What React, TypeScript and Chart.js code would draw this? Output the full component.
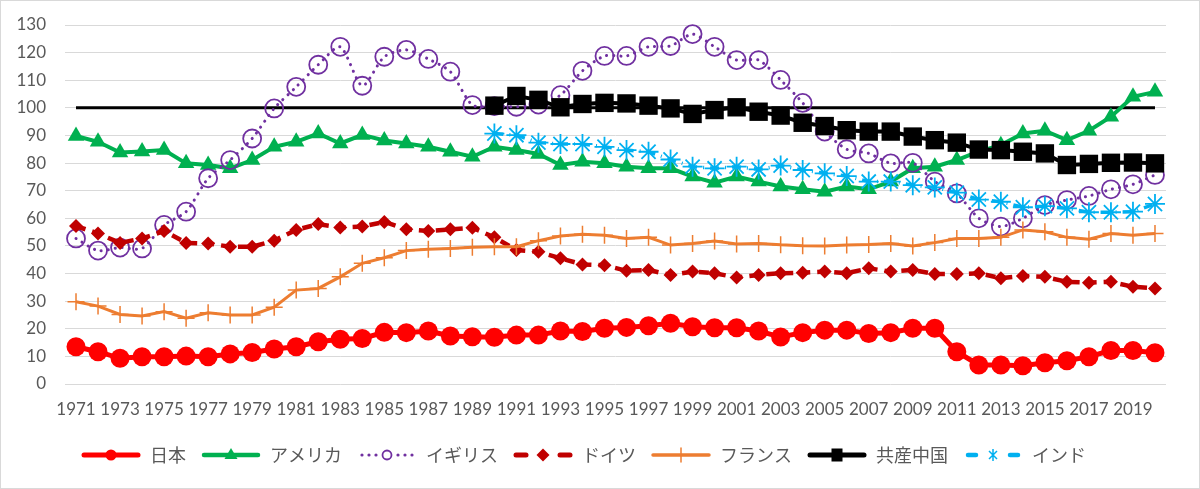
import React, { useEffect, useRef } from "react";
import { Chart, registerables } from "chart.js";

Chart.register(...registerables);

// 1971 - 2020
const years = [
  "1971", "1972", "1973", "1974", "1975", "1976", "1977", "1978", "1979", "1980",
  "1981", "1982", "1983", "1984", "1985", "1986", "1987", "1988", "1989", "1990",
  "1991", "1992", "1993", "1994", "1995", "1996", "1997", "1998", "1999", "2000",
  "2001", "2002", "2003", "2004", "2005", "2006", "2007", "2008", "2009", "2010",
  "2011", "2012", "2013", "2014", "2015", "2016", "2017", "2018", "2019", "2020",
];

const japan = [
  13.5, 11.7, 9.3, 9.9, 9.9, 10.1, 9.9, 10.9, 11.4, 12.7,
  13.5, 15.3, 16.2, 16.5, 18.7, 18.6, 19.2, 17.4, 17.1, 16.9,
  17.7, 17.7, 19.2, 19.0, 20.2, 20.5, 21.1, 22.0, 20.7, 20.4,
  20.4, 19.2, 17.0, 18.6, 19.5, 19.5, 18.3, 18.6, 20.2, 20.2,
  11.7, 6.9, 6.9, 6.6, 7.7, 8.4, 9.9, 12.1, 12.1, 11.3,
];

const usa = [
  89.8, 87.7, 83.8, 84.2, 84.7, 79.9, 79.3, 78.1, 81.1, 85.9,
  87.7, 90.7, 87.1, 90.2, 88.2, 87.1, 85.9, 84.1, 82.3, 85.9,
  84.7, 83.3, 79.3, 80.5, 79.9, 78.7, 78.1, 78.1, 75.1, 72.9,
  75.1, 73.3, 71.5, 70.5, 69.6, 71.5, 70.5, 73.3, 78.1, 78.7,
  81.1, 84.2, 86.5, 90.7, 91.7, 88.3, 91.7, 96.8, 104.0, 105.8,
];

const uk = [
  52.7, 48.3, 49.4, 49.1, 57.6, 62.4, 74.5, 81.1, 88.9, 99.8,
  107.6, 115.6, 122.1, 108.0, 118.5, 121.0, 117.7, 113.1, 101.0, 100.6,
  100.4, 101.2, 104.6, 113.4, 118.8, 118.8, 122.1, 122.4, 126.7, 122.1,
  117.3, 117.3, 110.1, 101.8, 91.4, 85.0, 83.5, 79.9, 80.1, 73.3,
  69.0, 60.0, 57.0, 60.0, 64.8, 66.6, 68.1, 70.5, 72.3, 75.7,
];

const germany = [
  57.2, 54.5, 51.1, 52.7, 55.4, 51.1, 50.9, 49.7, 49.7, 51.9,
  55.8, 57.9, 56.7, 57.0, 58.7, 56.0, 55.4, 56.0, 56.6, 53.1,
  48.5, 47.9, 45.5, 43.3, 43.0, 41.0, 41.3, 39.5, 40.7, 40.1,
  38.6, 39.5, 40.1, 40.3, 40.7, 40.1, 41.9, 40.7, 41.3, 39.8,
  39.8, 40.1, 38.3, 39.1, 38.8, 37.0, 36.7, 37.0, 35.2, 34.6,
];

const france = [
  29.8, 28.2, 25.2, 24.6, 26.2, 23.8, 25.8, 25.0, 25.0, 27.8,
  34.0, 34.6, 38.8, 43.7, 45.7, 48.3, 48.8, 49.1, 49.5, 49.7,
  49.7, 51.9, 53.6, 54.2, 53.9, 52.7, 53.1, 50.3, 50.9, 51.8,
  50.7, 50.9, 50.4, 50.1, 50.0, 50.3, 50.5, 50.9, 50.0, 51.2,
  52.7, 52.7, 53.1, 55.8, 55.1, 53.1, 52.4, 54.5, 53.9, 54.5,
];

const china = [
  null, null, null, null, null, null, null, null, null, null,
  null, null, null, null, null, null, null, null, null, 100.8,
  104.3, 102.9, 100.2, 101.4, 101.8, 101.6, 100.8, 99.8, 97.8, 99.2,
  100.2, 98.6, 97.2, 94.6, 93.4, 91.9, 91.4, 91.4, 89.6, 88.3,
  87.4, 84.9, 84.7, 84.1, 83.5, 79.3, 79.7, 80.1, 80.2, 79.9,
];

const india = [
  null, null, null, null, null, null, null, null, null, null,
  null, null, null, null, null, null, null, null, null, 90.7,
  90.1, 87.4, 86.9, 86.9, 85.9, 84.7, 84.1, 81.3, 78.7, 78.1,
  78.7, 77.7, 79.1, 77.5, 76.3, 75.3, 73.3, 73.3, 72.0, 71.2,
  69.3, 66.8, 66.0, 64.0, 64.4, 63.6, 62.2, 62.2, 62.4, 65.2,
];

// reference line at 100
const baselineEnds = ["1971", "2020"];
const baselineValue = 100;

const yMin = 0;
const yMax = 130;
const yStep = 10;

const TICK_COLOR = "#595959";
const tickFont = { family: "Lato, 'Noto Sans', sans-serif", size: 17 };

// legend sample: line + marker drawn on a small canvas
function makeIcon(draw: (g: CanvasRenderingContext2D) => void): HTMLCanvasElement {
  const c = document.createElement("canvas");
  c.width = 60;
  c.height = 20;
  const g = c.getContext("2d");
  if (g) {
    g.lineCap = "round";
    draw(g);
  }
  return c;
}

function seg(g: CanvasRenderingContext2D, x1: number, x2: number, color: string, w: number) {
  g.strokeStyle = color;
  g.lineWidth = w;
  g.beginPath();
  g.moveTo(x1, 10);
  g.lineTo(x2, 10);
  g.stroke();
}

const App: React.FC = () => {
  const chartRef = useRef<HTMLCanvasElement>(null);
  const chartInstance = useRef<Chart | null>(null);

  useEffect(() => {
    document.body.style.margin = "0";
    if (!chartRef.current) return;
    if (chartInstance.current) chartInstance.current.destroy();
    const ctx = chartRef.current.getContext("2d");
    if (!ctx) return;

    const icons = [
      makeIcon((g) => {
        seg(g, 3, 57, "#FF0000", 5);
        g.fillStyle = "#FF0000";
        g.beginPath();
        g.arc(30, 10, 5.5, 0, Math.PI * 2);
        g.fill();
      }),
      makeIcon((g) => {
        seg(g, 3, 57, "#00B050", 4.5);
        g.fillStyle = "#00B050";
        g.beginPath();
        g.moveTo(30, 3);
        g.lineTo(36.5, 14);
        g.lineTo(23.5, 14);
        g.closePath();
        g.fill();
      }),
      makeIcon((g) => {
        g.fillStyle = "#7030A0";
        [5, 12, 19, 41, 48, 55].forEach((x) => {
          g.beginPath();
          g.arc(x, 10, 1.6, 0, Math.PI * 2);
          g.fill();
        });
        g.strokeStyle = "#7030A0";
        g.lineWidth = 1.8;
        g.beginPath();
        g.arc(30, 10, 4.5, 0, Math.PI * 2);
        g.stroke();
      }),
      makeIcon((g) => {
        seg(g, 3, 13, "#C00000", 5);
        seg(g, 47, 57, "#C00000", 5);
        g.fillStyle = "#C00000";
        g.beginPath();
        g.moveTo(30, 3.5);
        g.lineTo(36.5, 10);
        g.lineTo(30, 16.5);
        g.lineTo(23.5, 10);
        g.closePath();
        g.fill();
      }),
      makeIcon((g) => {
        seg(g, 2, 58, "#ED7D31", 3.5);
        g.strokeStyle = "#ED7D31";
        g.lineWidth = 1.5;
        g.beginPath();
        g.moveTo(30, 3);
        g.lineTo(30, 17);
        g.stroke();
      }),
      makeIcon((g) => {
        seg(g, 3, 57, "#000000", 5);
        g.fillStyle = "#000000";
        g.fillRect(24.5, 3.5, 11, 13);
      }),
      makeIcon((g) => {
        seg(g, 5, 13, "#00B0F0", 4.5);
        seg(g, 47, 55, "#00B0F0", 4.5);
        g.strokeStyle = "#00B0F0";
        g.lineWidth = 1.5;
        g.lineCap = "butt";
        g.beginPath();
        g.moveTo(30, 4);
        g.lineTo(30, 16);
        g.moveTo(26, 6);
        g.lineTo(34, 14);
        g.moveTo(34, 6);
        g.lineTo(26, 14);
        g.stroke();
      }),
    ];

    chartInstance.current = new Chart(ctx, {
      type: "line",
      data: {
        labels: years,
        datasets: [
          {
            label: "日本",
            data: japan,
            borderColor: "#FF0000",
            borderWidth: 5,
            pointStyle: "circle",
            pointRadius: 9.5,
            pointBackgroundColor: "#FF0000",
            pointBorderColor: "#FF0000",
            pointBorderWidth: 0,
            order: 0,
          },
          {
            label: "アメリカ",
            data: usa,
            borderColor: "#00B050",
            borderWidth: 4,
            pointStyle: "triangle",
            pointRadius: 9.5,
            pointBackgroundColor: "#00B050",
            pointBorderColor: "#00B050",
            pointBorderWidth: 0,
            order: -1,
          },
          {
            label: "イギリス",
            data: uk,
            borderColor: "#7030A0",
            borderWidth: 3,
            borderDash: [0.1, 7],
            borderCapStyle: "round",
            tension: 0.25,
            pointStyle: "circle",
            pointRadius: 9,
            pointBackgroundColor: "rgba(255,255,255,0)",
            pointBorderColor: "#7030A0",
            pointBorderWidth: 1.8,
            order: -2,
          },
          {
            label: "ドイツ",
            data: germany,
            borderColor: "#C00000",
            borderWidth: 4.5,
            borderDash: [10, 7],
            pointStyle: "rectRot",
            pointRadius: 7,
            pointBackgroundColor: "#C00000",
            pointBorderColor: "#C00000",
            pointBorderWidth: 0,
            order: -3,
          },
          {
            label: "フランス",
            data: france,
            borderColor: "#ED7D31",
            borderWidth: 3,
            pointStyle: "cross",
            pointRadius: 8.5,
            pointBorderColor: "#ED7D31",
            pointBorderWidth: 1.5,
            order: -4,
          },
          {
            label: "共産中国",
            data: china,
            borderColor: "#000000",
            borderWidth: 4,
            pointStyle: "rect",
            pointRadius: 13,
            pointBackgroundColor: "#000000",
            pointBorderColor: "#000000",
            pointBorderWidth: 0,
            order: -5,
          },
          {
            label: "インド",
            data: india,
            borderColor: "#00B0F0",
            borderWidth: 3.5,
            borderDash: [9, 6, 1, 6],
            pointStyle: "star",
            pointRadius: 10,
            pointBorderColor: "#00B0F0",
            pointBorderWidth: 1.8,
            order: -6,
          },
          {
            label: "100",
            data: baselineEnds.map((x) => ({ x, y: baselineValue })),
            borderColor: "#000000",
            borderWidth: 3,
            pointRadius: 0,
            order: 100,
          },
        ] as any,
      },
      options: {
        animation: false,
        responsive: true,
        maintainAspectRatio: false,
        layout: { padding: { top: 24, right: 33, bottom: 14, left: 0 } },
        elements: { line: { tension: 0 } },
        datasets: { line: { clip: false as any } },
        plugins: {
          legend: {
            position: "bottom",
            labels: {
              usePointStyle: true,
              pointStyleWidth: 60,
              padding: 15,
              color: TICK_COLOR,
              font: { family: "'Noto Sans CJK JP', sans-serif", size: 18 },
              filter: (item) => item.datasetIndex !== 7,
              sort: (a, b) => (a.datasetIndex ?? 0) - (b.datasetIndex ?? 0),
              generateLabels: (c) =>
                Chart.defaults.plugins.legend.labels
                  .generateLabels(c)
                  .map((l) => ({ ...l, pointStyle: icons[l.datasetIndex ?? 0] as any })),
            },
          },
          tooltip: { enabled: false },
        },
        scales: {
          x: {
            offset: true,
            grid: { display: false, drawTicks: false, offset: true },
            border: { display: false },
            ticks: {
              autoSkip: false,
              maxRotation: 0,
              minRotation: 0,
              padding: 15,
              color: TICK_COLOR,
              font: tickFont,
              callback: (_v, i) => (i % 2 === 0 ? years[i] : ""),
            },
            afterFit: (s) => {
              s.height = 47;
            },
          },
          y: {
            min: yMin,
            max: yMax,
            grid: { color: "#D9D9D9", lineWidth: 1, drawTicks: false },
            border: { display: false },
            ticks: {
              stepSize: yStep,
              padding: 19,
              color: TICK_COLOR,
              font: tickFont,
            },
            afterFit: (s: any) => {
              s.width = 64;
              // the tick padding is horizontal here; keep it out of the top/bottom reserve
              s.paddingTop = 11;
              s.paddingBottom = 11;
            },
          },
        },
      },
    });

    return () => {
      if (chartInstance.current) {
        chartInstance.current.destroy();
        chartInstance.current = null;
      }
    };
  }, []);

  return (
    <div
      style={{
        width: 1200,
        height: 489,
        boxSizing: "border-box",
        border: "1px solid #D9D9D9",
        background: "#ffffff",
      }}
    >
      <div style={{ position: "relative", width: 1198, height: 487 }}>
        <canvas ref={chartRef}></canvas>
      </div>
    </div>
  );
};

export default App;
